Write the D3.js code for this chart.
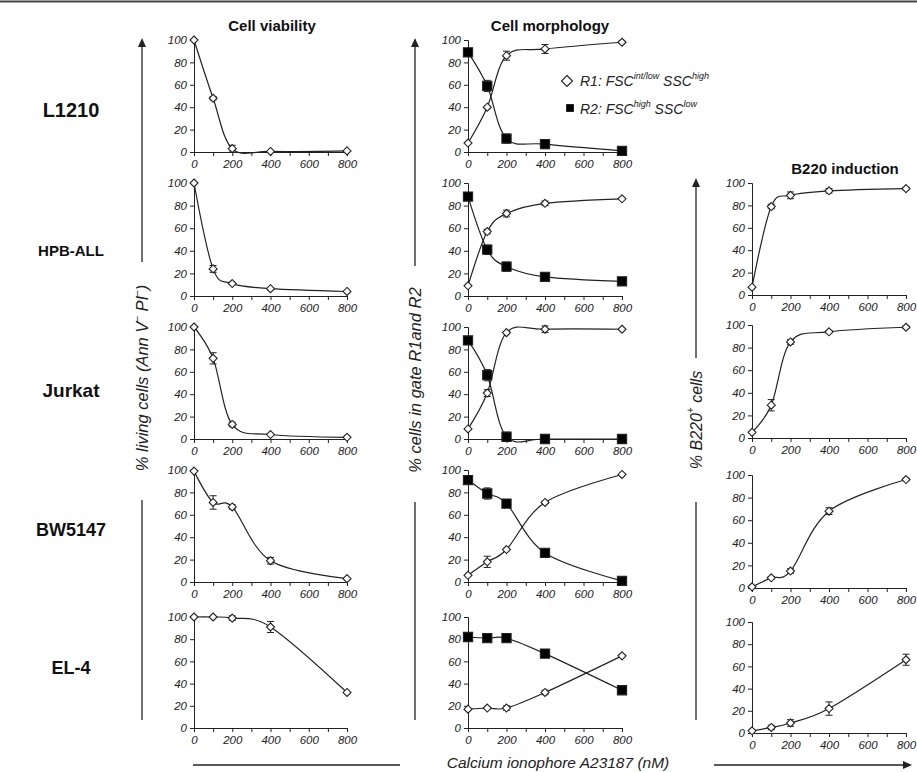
<!DOCTYPE html>
<html>
<head>
<meta charset="utf-8">
<script src="https://cdn.jsdelivr.net/npm/d3@7"></script>
<style>
  body { margin: 0; background: #fff; }
  svg { font-family: "Liberation Sans", Arial, sans-serif; }
</style>
</head>
<body>
<svg id="fig" width="917" height="772"></svg>
<script>
// dose axis shared by every panel
var doses = [0, 100, 200, 400, 800];
var cellLines = ["L1210", "HPB-ALL", "Jurkat", "BW5147", "EL-4"];

// % living cells (Ann V- PI-)
var viability = [
  [100, 48, 3, 0.5, 1],
  [100, 24, 11, 6.5, 4],
  [100, 72, 13, 4, 1.5],
  [99, 71, 67, 19, 3],
  [100, 100, 99, 91, 32]
];
var viabilityErr = [
  [0, 1.5, 3, 0, 0],
  [0, 3, 1, 1, 0],
  [0, 5, 2, 0, 0],
  [0, 6, 2, 3, 0],
  [0, 0, 2, 5, 0]
];

// % cells in gate R1 (open) and R2 (filled)
var r1 = [
  [8, 40, 86, 92, 98],
  [9, 57, 73, 82, 86],
  [9, 41, 95, 98, 98],
  [6, 18, 29, 71, 96],
  [17, 18, 18, 32, 65]
];
var r1Err = [
  [0, 1, 4, 4, 1],
  [0, 2, 3, 2, 0],
  [0, 3, 1, 3, 0],
  [0, 5, 1, 1, 0],
  [0, 1, 2, 2, 1]
];
var r2 = [
  [89, 59, 12, 7, 1],
  [88, 41, 26, 17, 13],
  [88, 57, 2, 0, 0],
  [91, 79, 70, 26, 1],
  [82, 81, 81, 67, 34]
];
var r2Err = [
  [1, 5, 4, 4, 1],
  [1, 4, 4, 1, 1],
  [1, 5, 4, 1, 0],
  [1, 5, 1, 1, 0],
  [1, 2, 3, 3, 3]
];

// % B220+ cells (not measured for L1210)
var b220 = [
  null,
  [7, 79, 89, 93, 95],
  [5, 29, 85, 94, 98],
  [1, 9, 15, 68, 96],
  [2, 5, 9, 22, 66]
];
var b220Err = [
  null,
  [0, 2, 3, 2, 1],
  [0, 5, 2, 1, 1],
  [0, 1, 2, 3, 1],
  [0, 2, 3, 6, 5]
];

var yTicks = [0, 20, 40, 60, 80, 100];
var xTicks = [0, 100, 200, 300, 400, 500, 600, 700, 800];
var xLabels = [0, 200, 400, 600, 800];

var svg = d3.select("#fig");
var ink = "#222";

// panel frames (layout only)
var colX = [[194, 347], [468, 622], [752, 906]];
var rowY = [[40, 152], [183, 296], [327, 439], [470, 582], [617, 728]];
var rowY3 = [null, [183, 295], [325, 438], [475, 588], [622, 733]];

svg.append("line").attr("x1", 0).attr("x2", 917).attr("y1", 1.5).attr("y2", 1.5)
  .attr("stroke", "#444").attr("stroke-width", 2);

// equal-sided open diamond
function diamond(r) {
  return "M0," + (-r) + "L" + r + ",0L0," + r + "L" + (-r) + ",0Z";
}

function panel(cx, ry, series) {
  var x = d3.scaleLinear().domain([0, 800]).range(cx);
  var y = d3.scaleLinear().domain([0, 100]).range([ry[1], ry[0]]);
  var g = svg.append("g");

  var ya = g.append("g").attr("transform", "translate(" + cx[0] + ",0)")
    .call(d3.axisLeft(y).tickValues(yTicks).tickSize(4).tickPadding(3));
  var xa = g.append("g").attr("transform", "translate(0," + ry[1] + ")")
    .call(d3.axisBottom(x).tickValues(xTicks).tickSize(4).tickPadding(4)
      .tickFormat(function (d) { return xLabels.indexOf(d) >= 0 ? d : ""; }));
  [ya, xa].forEach(function (a) {
    a.select(".domain").attr("stroke", ink);
    a.selectAll(".tick line").attr("stroke", ink);
    a.selectAll("text").attr("font-size", 11.5).attr("font-style", "italic").attr("fill", ink);
  });
  ya.selectAll("text").attr("x", -7);

  var line = d3.line()
    .x(function (d, i) { return x(doses[i]); })
    .y(function (d) { return y(d); })
    .curve(d3.curveCardinal.tension(0));

  series.forEach(function (s) {
    g.append("path").datum(s.values).attr("d", line)
      .attr("fill", "none").attr("stroke", ink).attr("stroke-width", 1.2);
    s.values.forEach(function (v, i) {
      var e = s.err[i];
      if (e > 0) {
        var px = x(doses[i]);
        g.append("line").attr("x1", px).attr("x2", px)
          .attr("y1", y(v - e)).attr("y2", y(v + e)).attr("stroke", ink).attr("stroke-width", 1);
        [v - e, v + e].forEach(function (w) {
          g.append("line").attr("x1", px - 3.5).attr("x2", px + 3.5)
            .attr("y1", y(w)).attr("y2", y(w)).attr("stroke", ink).attr("stroke-width", 1);
        });
      }
    });
    g.selectAll(null).data(s.values).enter().append("path")
      .attr("transform", function (d, i) { return "translate(" + x(doses[i]) + "," + y(d) + ")"; })
      .attr("d", s.filled ? d3.symbol().type(d3.symbolSquare).size(85)() : diamond(4))
      .attr("fill", s.filled ? "#000" : "#fff")
      .attr("stroke", ink).attr("stroke-width", 1.1);
  });
}

cellLines.forEach(function (name, r) {
  panel(colX[0], rowY[r], [{ values: viability[r], err: viabilityErr[r] }]);
  panel(colX[1], rowY[r], [
    { values: r1[r], err: r1Err[r] },
    { values: r2[r], err: r2Err[r], filled: true }
  ]);
  if (b220[r]) panel(colX[2], rowY3[r], [{ values: b220[r], err: b220Err[r] }]);
});

// row labels
var rowLabelY = [110, 250, 390, 530, 668];
var rowLabelSize = [20, 15, 19, 18, 18];
cellLines.forEach(function (name, r) {
  svg.append("text").attr("x", 71).attr("y", rowLabelY[r]).attr("text-anchor", "middle")
    .attr("dominant-baseline", "central").attr("font-weight", "bold")
    .attr("font-size", rowLabelSize[r]).attr("fill", "#111").text(name);
});

// column titles
[["Cell viability", 272, 25], ["Cell morphology", 550, 25], ["B220 induction", 845, 168]].forEach(function (t) {
  svg.append("text").attr("x", t[1]).attr("y", t[2]).attr("text-anchor", "middle")
    .attr("dominant-baseline", "central").attr("font-weight", "bold")
    .attr("font-size", 15).attr("fill", "#111").text(t[0]);
});

// legend
var lg = svg.append("g").attr("font-size", 14).attr("font-style", "italic").attr("fill", ink);
lg.append("path").attr("transform", "translate(567,81)").attr("d", diamond(5.5))
  .attr("fill", "#fff").attr("stroke", ink).attr("stroke-width", 1.1);
lg.append("path").attr("transform", "translate(570,108)").attr("d", d3.symbol().type(d3.symbolSquare).size(60)())
  .attr("fill", "#000");
function supText(px, py, parts) {
  var t = lg.append("text").attr("x", px).attr("y", py).attr("dominant-baseline", "central");
  parts.forEach(function (p) {
    var s = t.append("tspan").text(p[0]);
    if (p[1]) s.attr("font-size", 9).attr("dy", -5);
    else if (p[2]) s.attr("dy", 5);
  });
}
supText(580, 81, [["R1: FSC"], ["int/low", 1], [" SSC", 0, 1], ["high", 1]]);
supText(580, 109, [["R2: FSC"], ["high", 1], [" SSC", 0, 1], ["low", 1]]);

// y-axis titles with broken arrow lines
function yTitle(px, cy, lineTop, gapTop, gapBot, lineBot, size, parts) {
  svg.append("line").attr("x1", px).attr("x2", px).attr("y1", lineTop + 8).attr("y2", gapTop)
    .attr("stroke", ink).attr("stroke-width", 1.3);
  svg.append("path").attr("d", "M" + (px - 4) + "," + (lineTop + 9) + "L" + px + "," + lineTop + "L" + (px + 4) + "," + (lineTop + 9) + "Z")
    .attr("fill", ink);
  svg.append("line").attr("x1", px).attr("x2", px).attr("y1", gapBot).attr("y2", lineBot)
    .attr("stroke", ink).attr("stroke-width", 1.3);
  var t = svg.append("text").attr("transform", "translate(" + px + "," + cy + ") rotate(-90)")
    .attr("text-anchor", "middle").attr("dominant-baseline", "central")
    .attr("font-size", size).attr("font-style", "italic").attr("fill", ink);
  parts.forEach(function (p) {
    var s = t.append("tspan").text(p[0]);
    if (p[1]) s.attr("font-size", 10).attr("dy", -6);
    else if (p[2]) s.attr("dy", 6);
  });
}
yTitle(142, 378, 38, 262, 500, 720, 16.5, [["% living cells (Ann V"], ["\u2013", 1], [" PI", 0, 1], ["\u2013", 1], [")", 0, 1]]);
yTitle(415, 380, 38, 266, 502, 720, 16.5, [["% cells in gate R1and R2"]]);
yTitle(696, 420, 178, 358, 502, 720, 16, [["% B220"], ["+", 1], [" cells", 0, 1]]);

// shared x-axis title
svg.append("line").attr("x1", 193).attr("x2", 400).attr("y1", 765).attr("y2", 765)
  .attr("stroke", ink).attr("stroke-width", 1.3);
svg.append("line").attr("x1", 714).attr("x2", 904).attr("y1", 765).attr("y2", 765)
  .attr("stroke", ink).attr("stroke-width", 1.3);
svg.append("path").attr("d", "M903,761L912,765L903,769Z").attr("fill", ink);
svg.append("text").attr("x", 558).attr("y", 762).attr("text-anchor", "middle")
  .attr("dominant-baseline", "central").attr("font-size", 15.5).attr("font-style", "italic")
  .attr("fill", ink).text("Calcium ionophore A23187 (nM)");
</script>
</body>
</html>
